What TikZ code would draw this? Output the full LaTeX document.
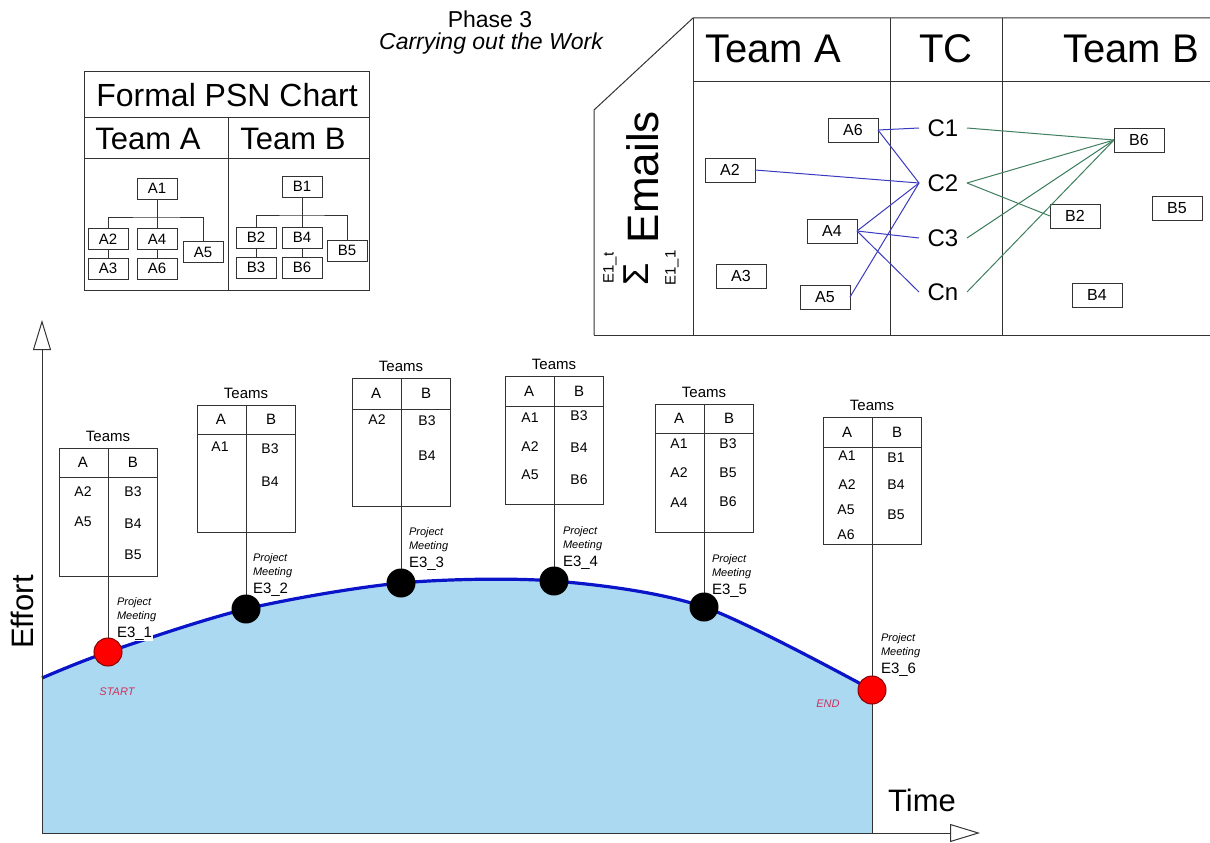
\documentclass[tikz,border=0pt]{standalone}
\usepackage{fontspec}
\setmainfont{Liberation Sans}
\usetikzlibrary{arrows.meta}
\newcommand\myfs[1]{\fontsize{#1}{#1}\selectfont}
\definecolor{lg}{HTML}{333333}
\definecolor{fillblue}{HTML}{ACD9F2}
\definecolor{curveblue}{HTML}{0A14C8}
\definecolor{edgeblue}{HTML}{3A3AC0}
\definecolor{edgegreen}{HTML}{3F7F5F}
\definecolor{startred}{HTML}{D0305A}
\definecolor{dotred}{HTML}{FF0000}
\definecolor{dotredline}{HTML}{8A0000}
\newcommand\teamtab[6]{%
  \node[tbox, minimum height={#4-#3}, anchor=north] (#1) at (#2,#3) {};
  \draw[ln] ({#2-49},#5) -- ({#2+49},#5);
  \draw[ln] (#1.north) -- (#6);
  \node[font=\myfs{15}] (#1t) at (#2,{#3-12}) {Teams};
  \node[font=\myfs{15}] (#1A) at ({#2-25},{(#3+#5)/2}) {A};
  \node[font=\myfs{15}] (#1B) at ({#2+25},{(#3+#5)/2}) {B};
}
\newcommand\pmlab[4]{%
  \node[pmit] (#1p) at (#2,#3) {Project};
  \node[pmit] (#1m) at (#2,{#3+14}) {Meeting};
  \node[pmid] (#1e) at (#2,{#3+31}) {E3\_#4};
}
\begin{document}
\begin{tikzpicture}[x=1pt,y=-1pt,
  every node/.style={inner sep=0pt, outer sep=0pt},
  ln/.style={draw=lg, line width=1pt},
  orgbox/.style={draw=lg, line width=1pt, minimum width=40, minimum height=21, font=\myfs{15}, fill=white},
  embox/.style={draw=lg, line width=1pt, minimum width=50, minimum height=24, font=\myfs{16}, fill=white},
  cnode/.style={minimum width=48, font=\myfs{24}},
  tbox/.style={draw=lg, line width=1pt, minimum width=98, fill=white},
  entry/.style={font=\myfs{14}},
  pmit/.style={anchor=west, font=\myfs{11}\itshape},
  pmid/.style={anchor=west, font=\myfs{15}},
  blueedge/.style={draw=edgeblue, line width=1pt},
  greenedge/.style={draw=edgegreen, line width=1pt},
  reddot/.style={circle, draw=dotredline, fill=dotred, line width=1pt, minimum size=28},
  blackdot/.style={circle, fill=black, minimum size=29},
  axisarrow/.style={draw=lg, line width=1pt, -{Triangle[open, length=30pt, width=18pt]}},
  marker/.style={font=\myfs{11}\itshape, text=startred}
]
\useasboundingbox (0,0) rectangle (1210,843);

% ---------- title ----------
\node[font=\myfs{23}] (ph) at (490,19) {Phase 3};
\node[font=\myfs{23}\itshape] (phs) at (491,44) {Carrying out the Work};

% ---------- Formal PSN chart ----------
\draw[ln] (84,72) rectangle (369,290);
\draw[ln] (84,117) -- (369,117);
\draw[ln] (84,158) -- (369,158);
\draw[ln] (228,117) -- (228,290);
\node[font=\myfs{32}] (psn) at (227,95) {Formal PSN Chart};
\node[font=\myfs{31}] (pta) at (148,139) {Team A};
\node[font=\myfs{31}] (ptb) at (293,139) {Team B};

\node[orgbox] (oA1) at (157,188.5) {A1};
\node[orgbox] (oA2) at (108,239) {A2};
\node[orgbox] (oA4) at (157,239) {A4};
\node[orgbox] (oA5) at (203,252) {A5};
\node[orgbox] (oA3) at (108,268.5) {A3};
\node[orgbox] (oA6) at (157,268.5) {A6};
\coordinate (busA) at (157,217);
\draw[ln] (oA1.south) -- (busA);
\draw[ln] (oA2.north) |- (busA) -| (oA5.north);
\draw[ln] (oA4.north) -- (busA);
\draw[ln] (oA2.south) -- (oA3.north);
\draw[ln] (oA4.south) -- (oA6.north);

\node[orgbox] (oB1) at (302,186.5) {B1};
\node[orgbox] (oB2) at (256,237.5) {B2};
\node[orgbox] (oB4) at (302,237.5) {B4};
\node[orgbox] (oB5) at (347,250.5) {B5};
\node[orgbox] (oB3) at (256,267.5) {B3};
\node[orgbox] (oB6) at (302,267.5) {B6};
\coordinate (busB) at (302,215);
\draw[ln] (oB1.south) -- (busB);
\draw[ln] (oB2.north) |- (busB) -| (oB5.north);
\draw[ln] (oB4.north) -- (busB);
\draw[ln] (oB2.south) -- (oB3.north);
\draw[ln] (oB4.south) -- (oB6.north);

% ---------- Emails panel ----------
\draw[ln] (594,335) -- (594,110) -- (693,18) -- (1210,18);
\draw[ln] (594,335) -- (1210,335);
\draw[ln] (693,81) -- (1210,81);
\draw[ln] (693,18) -- (693,335);
\draw[ln] (890,18) -- (890,335);
\draw[ln] (1002,18) -- (1002,335);
\node[font=\myfs{40}] (hTA) at (773,49) {Team A};
\node[font=\myfs{40}] (hTC) at (946,49) {TC};
\node[font=\myfs{40}] (hTB) at (1131,49) {Team B};

\node[font=\myfs{44}, rotate=90] (emails) at (643,177) {Emails};
\node[font=\myfs{36}, rotate=90] (sig) at (636,274) {Σ};
\node[font=\myfs{15}, rotate=90] (lim1) at (610,268) {E1\_t};
\node[font=\myfs{15}, rotate=90] (lim2) at (672,268) {E1\_1};

\node[embox] (eA6) at (853,130) {A6};
\node[embox] (eA2) at (730,170) {A2};
\node[embox] (eA4) at (832,231) {A4};
\node[embox] (eA3) at (741,276) {A3};
\node[embox] (eA5) at (825,297) {A5};
\node[cnode] (C1) at (943,128) {C1};
\node[cnode] (C2) at (943,183) {C2};
\node[cnode] (C3) at (943,238) {C3};
\node[cnode] (Cn) at (943,292) {Cn};
\node[embox] (eB6) at (1139,140) {B6};
\node[embox] (eB2) at (1075,216) {B2};
\node[embox] (eB5) at (1177,208) {B5};
\node[embox] (eB4) at (1097,295) {B4};

\draw[blueedge] (eA6.east) -- (C1.west);
\draw[blueedge] (eA6.east) -- (C2.west);
\draw[blueedge] (eA2.east) -- (C2.west);
\draw[blueedge] (eA4.east) -- (C2.west);
\draw[blueedge] (eA5.east) -- (C2.west);
\draw[blueedge] (eA4.east) -- (C3.west);
\draw[blueedge] (eA4.east) -- (Cn.west);
\draw[greenedge] (C1.east) -- (eB6.west);
\draw[greenedge] (C2.east) -- (eB6.west);
\draw[greenedge] (C2.east) -- (eB2.west);
\draw[greenedge] (C3.east) -- (eB6.west);
\draw[greenedge] (Cn.east) -- (eB6.west);

% ---------- effort graph ----------
\fill[fillblue] (42,833) -- plot[smooth] coordinates {(42,678) (108,652) (246,609) (401,583) (554,581) (704,607) (872,690)} -- (872,833) -- cycle;
\draw[curveblue, line width=3.2pt] plot[smooth] coordinates {(42,678) (108,652) (246,609) (401,583) (554,581) (704,607) (872,690)};

\coordinate (P1) at (108,652);
\coordinate (P2) at (246,609);
\coordinate (P3) at (401,583);
\coordinate (P4) at (554,581);
\coordinate (P5) at (704,607);
\coordinate (P6) at (872,690);
\coordinate (P6end) at (872,833);
\coordinate (origin) at (42,833);
\coordinate (ytip) at (42,320);
\coordinate (xtip) at (980,833);

\draw[axisarrow] (origin) -- (ytip);
\draw[axisarrow] (origin) -- (xtip);

\teamtab{T1}{108}{448}{576}{477}{P1}
\teamtab{T2}{246}{405}{532}{434}{P2}
\teamtab{T3}{401}{378}{506}{409}{P3}
\teamtab{T4}{554}{376}{504}{406}{P4}
\teamtab{T5}{704}{404}{532}{433}{P5}
\teamtab{T6}{872}{417}{544}{447}{P6end}

% entries
\node[entry] (t1a2) at (83,492) {A2};
\node[entry] (t1a5) at (83,522) {A5};
\node[entry] (t1b3) at (133,492) {B3};
\node[entry] (t1b4) at (133,524) {B4};
\node[entry] (t1b5) at (133,555) {B5};

\node[entry] (t2a1) at (220,447) {A1};
\node[entry] (t2b3) at (270,449) {B3};
\node[entry] (t2b4) at (270,482) {B4};

\node[entry] (t3a2) at (377,420) {A2};
\node[entry] (t3b3) at (427,421) {B3};
\node[entry] (t3b4) at (427,456) {B4};

\node[entry] (t4a1) at (530,418) {A1};
\node[entry] (t4a2) at (530,447) {A2};
\node[entry] (t4a5) at (530,475) {A5};
\node[entry] (t4b3) at (579,416) {B3};
\node[entry] (t4b4) at (579,448) {B4};
\node[entry] (t4b6) at (579,480) {B6};

\node[entry] (t5a1) at (679,444) {A1};
\node[entry] (t5a2) at (679,473) {A2};
\node[entry] (t5a4) at (679,503) {A4};
\node[entry] (t5b3) at (728,444) {B3};
\node[entry] (t5b5) at (728,473) {B5};
\node[entry] (t5b6) at (728,502) {B6};

\node[entry] (t6a1) at (847,456) {A1};
\node[entry] (t6a2) at (847,485) {A2};
\node[entry] (t6a5) at (846,510) {A5};
\node[entry] (t6a6) at (846,535) {A6};
\node[entry] (t6b1) at (896,458) {B1};
\node[entry] (t6b4) at (896,485) {B4};
\node[entry] (t6b5) at (896,515) {B5};

% meeting labels
\node[pmit] (L1p) at (117,603) {Project};
\node[pmit] (L1m) at (117,617) {Meeting};
\node[pmid, fill=white, inner xsep=1pt] (L1e) at (116,634) {E3\_1};
\pmlab{L2}{253}{559}{2}
\pmlab{L3}{409}{533}{3}
\pmlab{L4}{563}{532}{4}
\pmlab{L5}{712}{560}{5}
\pmlab{L6}{881}{639}{6}

\node[marker] (start) at (117,692) {START};
\node[marker] (end) at (828,704) {END};

% dots
\node[reddot] (D1) at (P1) {};
\node[blackdot] (D2) at (P2) {};
\node[blackdot] (D3) at (P3) {};
\node[blackdot] (D4) at (P4) {};
\node[blackdot] (D5) at (P5) {};
\node[reddot] (D6) at (P6) {};

% axis labels
\node[font=\myfs{31}, rotate=90] (effort) at (22,612) {Effort};
\node[font=\myfs{31}] (time) at (922,800) {Time};
\end{tikzpicture}
\end{document}
